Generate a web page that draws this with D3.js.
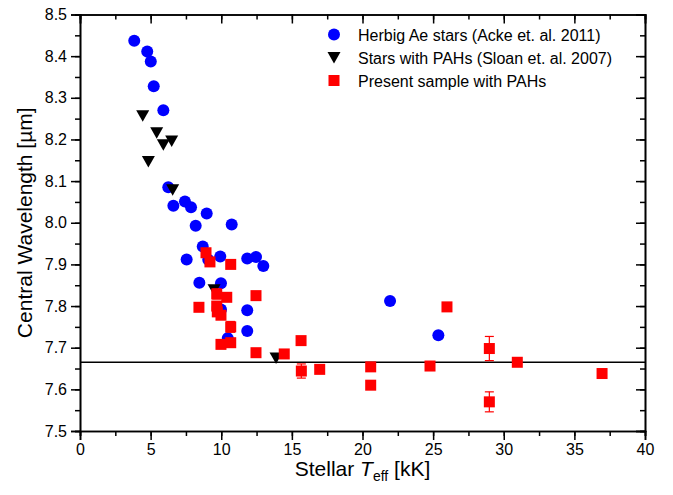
<!DOCTYPE html>
<meta charset="utf-8">
<script src="https://d3js.org/d3.v7.min.js"></script>
<style>
body { margin: 0; background: white; }
text { font-family: "Liberation Sans", Arial, sans-serif; }
</style>
<div id="my_dataviz"></div>
<script>

// Herbig Ae stars (Acke et. al. 2011)
var herbigT = [3.84, 4.76, 5.01, 5.22, 5.90, 6.25, 6.61, 7.43, 7.86, 8.19, 8.97, 10.74, 8.69, 7.55,
               9.08, 9.93, 11.84, 12.46, 12.98, 8.45, 9.98, 9.98, 11.84, 11.84, 10.46, 21.95, 25.37];
var herbigL = [8.437, 8.411, 8.387, 8.328, 8.270, 8.085, 8.041, 8.051, 8.037, 7.993, 8.022, 7.996, 7.943, 7.912,
               7.911, 7.919, 7.914, 7.918, 7.896, 7.856, 7.855, 7.792, 7.790, 7.740, 7.723, 7.812, 7.730];

// Stars with PAHs (Sloan et. al. 2007)
var sloanT = [4.44, 5.43, 6.49, 5.90, 4.84, 6.56, 9.49, 13.88];
var sloanL = [8.257, 8.216, 8.196, 8.187, 8.147, 8.079, 7.839, 7.675];

// Present sample with PAHs
var presentT = [8.92, 9.20, 10.67, 9.68, 10.39, 12.46, 8.42, 9.68, 9.72, 9.98, 10.67, 9.98, 10.67,
                12.46, 14.46, 15.65, 15.67, 16.97, 20.58, 20.58, 24.78, 25.98, 28.98, 28.98, 30.96, 36.96];
var presentL = [7.928, 7.906, 7.900, 7.829, 7.821, 7.825, 7.797, 7.800, 7.786, 7.778, 7.750, 7.708, 7.712,
                7.688, 7.685, 7.717, 7.644, 7.648, 7.654, 7.610, 7.656, 7.798, 7.698, 7.570, 7.665, 7.638];
var presentErr = [0, 0, 0, 0.012, 0, 0, 0, 0, 0, 0, 0.013, 0, 0,
                  0, 0, 0, 0.017, 0, 0, 0, 0, 0, 0.029, 0.024, 0, 0];

var refLine = 7.665;

var xTicks = [0, 5, 10, 15, 20, 25, 30, 35, 40];
var yTicks = [7.5, 7.6, 7.7, 7.8, 7.9, 8.0, 8.1, 8.2, 8.3, 8.4, 8.5];

var legendLabels = ["Herbig Ae stars (Acke et. al. 2011)",
                    "Stars with PAHs (Sloan et. al. 2007)",
                    "Present sample with PAHs"];

// set the dimensions and margins of the graph
var margin = {top: 14.5, right: 28, bottom: 64, left: 80},
    width = 673 - margin.left - margin.right,
    height = 495 - margin.top - margin.bottom;

var svg = d3.select("#my_dataviz")
  .append("svg")
    .attr("width", 673)
    .attr("height", 495)
  .append("g")
    .attr("transform", "translate(" + margin.left + "," + margin.top + ")");

var x = d3.scaleLinear().domain([0, 40]).range([0, width]);
var y = d3.scaleLinear().domain([7.5, 8.5]).range([height, 0]);

var xMinor = d3.range(0, 40.01, 2.5);
var yMinor = d3.range(7.5, 8.501, 0.05);

function styleAxis(g) {
  g.select(".domain").attr("stroke", "black").attr("stroke-width", 1.6);
  g.selectAll(".tick line").attr("stroke", "black").attr("stroke-width", 1.5);
  g.selectAll(".tick text").attr("fill", "black").style("font-size", "16px")
    .style("font-family", "'Liberation Sans', Arial, sans-serif");
}

// minor ticks (outward on bottom/left, inward on top/right)
svg.append("g").attr("transform", "translate(0," + height + ")")
  .call(d3.axisBottom(x).tickValues(xMinor).tickSize(5).tickFormat(""))
  .call(styleAxis);
svg.append("g")
  .call(d3.axisLeft(y).tickValues(yMinor).tickSize(5).tickFormat(""))
  .call(styleAxis);
svg.append("g")
  .call(d3.axisTop(x).tickValues(xMinor).tickSize(-5).tickFormat(""))
  .call(styleAxis);
svg.append("g").attr("transform", "translate(" + width + ",0)")
  .call(d3.axisRight(y).tickValues(yMinor).tickSize(-5).tickFormat(""))
  .call(styleAxis);

// major ticks
svg.append("g").attr("transform", "translate(0," + height + ")")
  .call(d3.axisBottom(x).tickValues(xTicks).tickSize(9).tickPadding(4).tickFormat(d3.format("d")))
  .call(styleAxis);
svg.append("g")
  .call(d3.axisLeft(y).tickValues(yTicks).tickSize(9).tickPadding(4).tickFormat(d3.format(".1f")))
  .call(styleAxis);
svg.append("g")
  .call(d3.axisTop(x).tickValues(xTicks).tickSize(-9).tickFormat(""))
  .call(styleAxis);
svg.append("g").attr("transform", "translate(" + width + ",0)")
  .call(d3.axisRight(y).tickValues(yTicks).tickSize(-9).tickFormat(""))
  .call(styleAxis);

// horizontal reference line
svg.append("line")
  .attr("x1", x(0)).attr("x2", x(40))
  .attr("y1", y(refLine)).attr("y2", y(refLine))
  .attr("stroke", "black").attr("stroke-width", 1.5);

// blue circles
svg.append("g")
  .selectAll("circle")
  .data(d3.range(herbigT.length))
  .enter()
  .append("circle")
    .attr("cx", function(i) { return x(herbigT[i]); })
    .attr("cy", function(i) { return y(herbigL[i]); })
    .attr("r", 6)
    .style("fill", "#0000ff");

// black triangles (pointing down)
var triPath = "M-6.5,-5.5L6.5,-5.5L0,6Z";
svg.append("g")
  .selectAll("path")
  .data(d3.range(sloanT.length))
  .enter()
  .append("path")
    .attr("d", triPath)
    .attr("transform", function(i) { return "translate(" + x(sloanT[i]) + "," + y(sloanL[i]) + ")"; })
    .style("fill", "black");

// error bars for present sample
var errG = svg.append("g")
  .selectAll("g")
  .data(d3.range(presentT.length).filter(function(i) { return presentErr[i] > 0; }))
  .enter()
  .append("g")
    .attr("stroke", "#ff0000")
    .attr("stroke-width", 1.2);
errG.append("line")
  .attr("x1", function(i) { return x(presentT[i]); })
  .attr("x2", function(i) { return x(presentT[i]); })
  .attr("y1", function(i) { return y(presentL[i] - presentErr[i]); })
  .attr("y2", function(i) { return y(presentL[i] + presentErr[i]); });
errG.selectAll(".cap")
  .data(function(i) { return [[i, -1], [i, 1]]; })
  .enter()
  .append("line")
    .attr("x1", function(d) { return x(presentT[d[0]]) - 4.5; })
    .attr("x2", function(d) { return x(presentT[d[0]]) + 4.5; })
    .attr("y1", function(d) { return y(presentL[d[0]] + d[1] * presentErr[d[0]]); })
    .attr("y2", function(d) { return y(presentL[d[0]] + d[1] * presentErr[d[0]]); });

// red squares
svg.append("g")
  .selectAll("rect")
  .data(d3.range(presentT.length))
  .enter()
  .append("rect")
    .attr("x", function(i) { return x(presentT[i]) - 5.5; })
    .attr("y", function(i) { return y(presentL[i]) - 5.5; })
    .attr("width", 11)
    .attr("height", 11)
    .style("fill", "#ff0000");

// axis titles
svg.append("text")
  .attr("x", width / 2)
  .attr("y", height + 45)
  .attr("text-anchor", "middle")
  .style("font-size", "21px")
  .call(function(t) {
    t.append("tspan").text("Stellar ");
    t.append("tspan").style("font-style", "italic").text("T");
    t.append("tspan").attr("dy", 5).style("font-size", "14px").text("eff");
    t.append("tspan").attr("dy", -5).text(" [kK]");
  });

svg.append("text")
  .attr("transform", "translate(" + (-48) + "," + (height / 2) + ") rotate(-90)")
  .attr("text-anchor", "middle")
  .style("font-size", "21px")
  .text("Central Wavelength [\u00b5m]");

// legend
var legend = svg.append("g").attr("transform", "translate(254,20)");
legend.append("circle").attr("cx", 0).attr("cy", 0).attr("r", 6).style("fill", "#0000ff");
legend.append("path").attr("d", triPath).attr("transform", "translate(0,23)").style("fill", "black");
legend.append("rect").attr("x", -5.5).attr("y", 40.5).attr("width", 11).attr("height", 11).style("fill", "#ff0000");
legend.selectAll(".lbl")
  .data(legendLabels)
  .enter()
  .append("text")
    .attr("x", 24)
    .attr("y", function(d, i) { return i * 23 + 6; })
    .style("font-size", "16px")
    .text(function(d) { return d; });

</script>
